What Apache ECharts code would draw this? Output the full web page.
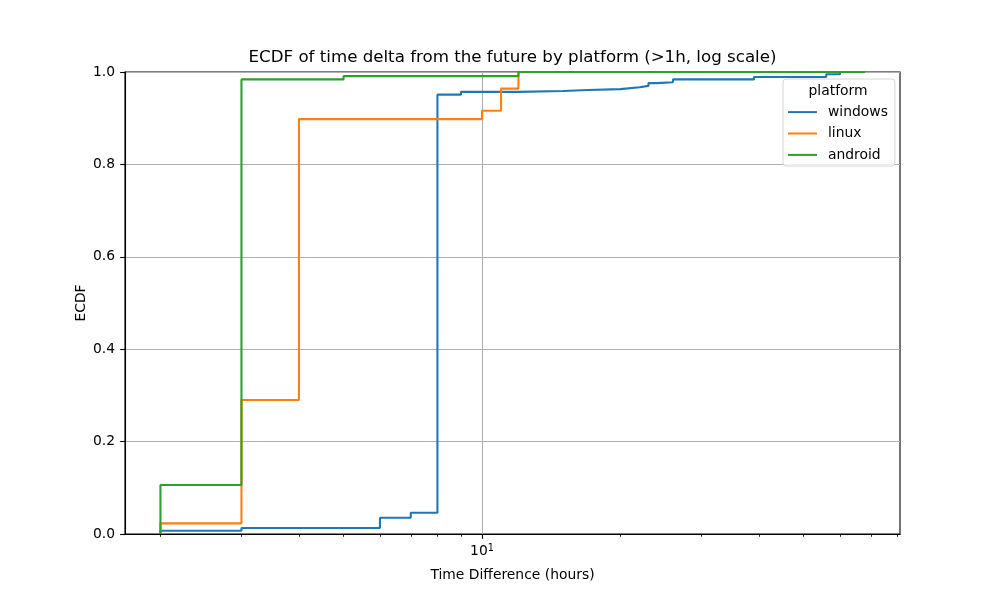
<!DOCTYPE html>
<html>
<head>
<meta charset="utf-8">
<script src="https://cdn.jsdelivr.net/npm/echarts@6/dist/echarts.min.js"></script>
<style>html,body{margin:0;padding:0;background:#fff}#c{width:1000px;height:600px}</style>
</head>
<body>
<div id="c"></div>
<script>
const windowsHours = [2, 2, 3, 6, 7, 8, 9, 12, 15, 17, 20, 22, 23, 24, 26, 39, 56, 60];
const windowsEcdf  = [0, 0.007, 0.013, 0.035, 0.046, 0.951, 0.957, 0.959, 0.961, 0.963, 0.967, 0.970, 0.976, 0.978, 0.984, 0.989, 0.995, 1.0];
const linuxHours = [2, 2, 3, 4, 10, 11, 12];
const linuxEcdf  = [0, 0.023, 0.29, 0.898, 0.916, 0.964, 1.0];
const androidHours = [2, 2, 3, 5, 12, 68];
const androidEcdf  = [0, 0.106, 0.984, 0.991, 1.0, 1.0];
const xMajorTicks = [10];
const xMinorTicks = [2, 3, 4, 5, 6, 7, 8, 9, 20, 30, 40, 50, 60, 70, 80];

const FONT = 'DejaVu Sans';
const FS = 13.89;
const zip = (xs, ys) => xs.map((x, i) => [x, ys[i]]);

const chart = echarts.init(document.getElementById('c'), null, {renderer: 'canvas'});
const xMin = 1.675, xMax = 81.0;

function mkSeries(name, xs, ys, color) {
  return {
    name: name, type: 'line', step: 'end', data: zip(xs, ys),
    symbol: 'none', showSymbol: false, animation: false,
    lineStyle: {color: color, width: 2.08}, itemStyle: {color: color},
    xAxisIndex: 0, yAxisIndex: 0
  };
}

chart.setOption({
  animation: false,
  backgroundColor: '#ffffff',
  textStyle: {fontFamily: FONT},
  grid: {left: 125, right: 100, top: 72, bottom: 66, show: true, borderColor: '#000', borderWidth: 1.1, backgroundColor: 'transparent'},
  xAxis: [{
    type: 'log', logBase: 10, min: xMin, max: xMax,
    name: 'Time Difference (hours)', nameLocation: 'middle', nameGap: 34, nameMoveOverlap: false,
    nameTextStyle: {fontFamily: FONT, fontSize: FS, color: '#000'},
    axisLine: {show: true, lineStyle: {color: '#000', width: 1.1}},
    axisTick: {show: true, inside: false, length: 4.86, customValues: xMajorTicks, lineStyle: {color: '#000', width: 1.1}},
    axisLabel: {
      show: true, customValues: xMajorTicks, margin: 9, color: '#000', fontFamily: FONT, fontSize: FS,
      formatter: v => '10{sup|1}',
      rich: {sup: {fontFamily: FONT, fontSize: 9.7, color: '#000', padding: [0, 0, 7, 0]}}
    },
    splitLine: {show: true, lineStyle: {color: '#b0b0b0', width: 1.1}}
  }, {
    type: 'log', logBase: 10, min: xMin, max: xMax, position: 'bottom', gridIndex: 0,
    axisLine: {show: false},
    axisTick: {show: true, inside: false, length: 2.78, customValues: xMinorTicks, lineStyle: {color: '#000', width: 0.85}},
    axisLabel: {show: false},
    splitLine: {show: false}
  }],
  yAxis: {
    type: 'value', min: 0, max: 1, interval: 0.2,
    name: 'ECDF', nameLocation: 'middle', nameGap: 37, nameRotate: 90, nameMoveOverlap: false,
    nameTextStyle: {fontFamily: FONT, fontSize: FS, color: '#000'},
    axisLine: {show: true, lineStyle: {color: '#000', width: 1.1}},
    axisTick: {show: true, inside: false, length: 4.86, lineStyle: {color: '#000', width: 1.1}},
    axisLabel: {margin: 10, color: '#000', fontFamily: FONT, fontSize: FS, formatter: v => v.toFixed(1)},
    splitLine: {show: true, lineStyle: {color: '#b0b0b0', width: 1.1}}
  },
  legend: {
    data: ['windows', 'linux', 'android'],
    orient: 'vertical', left: 783, top: 79,
    padding: [25, 7, 3, 5],
    itemGap: 5.2, itemWidth: 29, itemHeight: 2, icon: 'rect',
    backgroundColor: 'rgba(255,255,255,0.8)', borderColor: '#d6d6d6', borderWidth: 1, borderRadius: 3,
    textStyle: {fontFamily: FONT, fontSize: FS, color: '#000', lineHeight: 16.2, padding: [0, 0, 0, 6]}
  },
  graphic: [
    {type: 'text', x: 512.5, y: 58, z: 100,
     style: {text: 'ECDF of time delta from the future by platform (>1h, log scale)', font: '16.67px "DejaVu Sans"', fill: '#000', align: 'center', verticalAlign: 'middle'}},
    {type: 'text', x: 838, y: 91, z: 100,
     style: {text: 'platform', font: '13.89px "DejaVu Sans"', fill: '#000', align: 'center', verticalAlign: 'middle'}}
  ],
  series: [
    mkSeries('windows', windowsHours, windowsEcdf, '#1f77b4'),
    mkSeries('linux', linuxHours, linuxEcdf, '#ff7f0e'),
    mkSeries('android', androidHours, androidEcdf, '#2ca02c')
  ]
});
</script>
</body>
</html>
